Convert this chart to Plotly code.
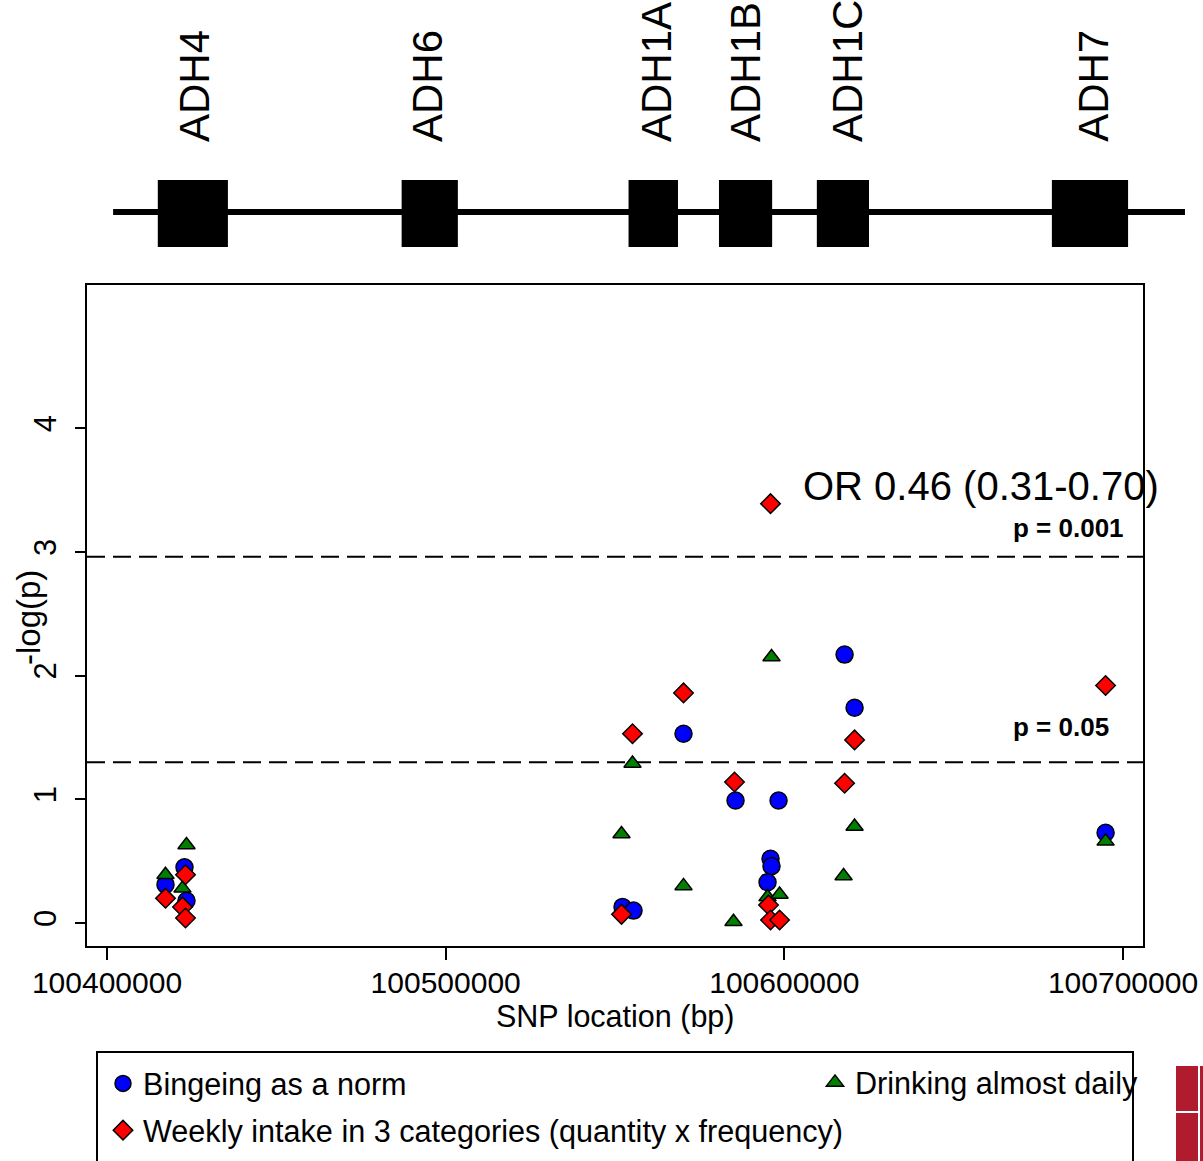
import plotly.graph_objects as go

# ---------------- data ----------------
series_names = ["Bingeing as a norm", "Drinking almost daily",
                "Weekly intake in 3 categories (quantity x frequency)"]

binge_x = [100417270, 100422880, 100423470, 100552220, 100555470, 100570230,
           100585590, 100598290, 100595920, 100596220, 100595040, 100617790,
           100620740, 100694860]
binge_y = [0.31, 0.45, 0.18, 0.13, 0.10, 1.53, 0.99, 0.99, 0.52, 0.46, 0.33,
           2.17, 1.74, 0.73]

daily_x = [100417270, 100422290, 100423470, 100551920, 100555170, 100570230,
           100584990, 100596220, 100595040, 100598590, 100617490, 100620740,
           100694860]
daily_y = [0.39, 0.28, 0.63, 0.72, 1.29, 0.30, 0.01, 2.15, 0.21, 0.23, 0.38,
           0.78, 0.66]

weekly_x = [100417270, 100423180, 100422290, 100423180, 100551920, 100555170,
            100570230, 100585290, 100595920, 100595330, 100595920, 100598590,
            100617790, 100620740, 100694860]
weekly_y = [0.20, 0.39, 0.13, 0.04, 0.07, 1.53, 1.86, 1.14, 3.39, 0.145, 0.024,
            0.024, 1.13, 1.48, 1.92]

# significance thresholds (-log p) and their labels
thresh_y = [2.96, 1.30]
thresh_labels = ["p = 0.001", "p = 0.05"]
thresh_label_y = [3.19, 1.585]

or_text = "OR 0.46 (0.31-0.70)"
or_y = 3.53

x_title = "SNP location (bp)"
y_title = "-log(p)"
x_tickvals = [100400000, 100500000, 100600000, 100700000]
x_ticktext = ["100400000", "100500000", "100600000", "100700000"]
y_tickvals = [0, 1, 2, 3, 4]

# schematic gene track (bp on the track axis)
gene_names = ["ADH4", "ADH6", "ADH1A", "ADH1B", "ADH1C", "ADH7"]
gene_start = [100415000, 100487000, 100554000, 100580700, 100609600, 100679000]
gene_end = [100435700, 100503600, 100568600, 100596400, 100625000, 100701500]
gene_label_x = [100425700, 100494500, 100562100, 100588400, 100618500, 100691100]
track_start, track_end = 100401800, 100718300

# ---------------- figure ----------------
W, H = 1203, 1161
ML, MR, MT, MB = 87, 10, 0, 215
PW = W - ML - MR
PH = H - MT - MB
FONT = "Liberation Sans, Arial"


def px_x(p):
    return (p - ML) / PW


def px_y(p):
    return (MT + PH - p) / PH


fig = go.Figure()

mk_line = dict(color="black", width=1.5)
fig.add_trace(go.Scatter(x=binge_x, y=binge_y, mode="markers", name=series_names[0],
                         marker=dict(symbol="circle", size=17, color="#0000ff", line=mk_line),
                         legend="legend", legendgroup="g1"))
fig.add_trace(go.Scatter(x=daily_x, y=daily_y, mode="markers", name=series_names[1],
                         marker=dict(symbol="triangle-up", size=15, color="#008000", line=mk_line),
                         legend="legend2", legendgroup="g2"))
fig.add_trace(go.Scatter(x=weekly_x, y=weekly_y, mode="markers", name=series_names[2],
                         marker=dict(symbol="diamond", size=15, color="#ff0000", line=mk_line),
                         legend="legend", legendgroup="g3"))
# dummy trace to instantiate gene-track axes
fig.add_trace(go.Scatter(x=[None], y=[None], xaxis="x2", yaxis="y2", showlegend=False,
                         hoverinfo="skip"))

shapes = []
for ty in thresh_y:
    shapes.append(dict(type="line", xref="x domain", yref="y", x0=0, x1=1, y0=ty, y1=ty,
                       line=dict(color="black", width=2, dash="18px,8px"), layer="below"))

# gene track
shapes.append(dict(type="line", xref="x2", yref="y2", x0=track_start, x1=track_end,
                   y0=48, y1=48, line=dict(color="black", width=6)))
for gs, ge in zip(gene_start, gene_end):
    shapes.append(dict(type="rect", xref="x2", yref="y2", x0=gs, x1=ge, y0=13, y1=80,
                       fillcolor="black", line=dict(width=0)))

# legend frame
shapes.append(dict(type="rect", xref="paper", yref="paper", x0=px_x(97), x1=px_x(1133),
                   y0=px_y(1052), y1=px_y(1175), line=dict(color="black", width=2),
                   fillcolor="rgba(0,0,0,0)"))
# clipped logo at the bottom right
shapes.append(dict(type="rect", xref="paper", yref="paper", x0=px_x(1176), x1=px_x(1210),
                   y0=px_y(1066), y1=px_y(1170), fillcolor="#b01c2e", line=dict(width=0)))
shapes.append(dict(type="line", xref="paper", yref="paper", x0=px_x(1199), x1=px_x(1199),
                   y0=px_y(1066), y1=px_y(1170), line=dict(color="white", width=2)))
shapes.append(dict(type="line", xref="paper", yref="paper", x0=px_x(1176), x1=px_x(1199),
                   y0=px_y(1112), y1=px_y(1112), line=dict(color="white", width=2)))

annotations = []
for lab, ly in zip(thresh_labels, thresh_label_y):
    annotations.append(dict(text=lab, xref="x domain", yref="y", x=(1011 - ML) / 1056, y=ly,
                            xanchor="left", yanchor="middle", showarrow=False,
                            font=dict(family=FONT, size=26, color="black", weight="bold")))
annotations.append(dict(text=or_text, xref="x domain", yref="y", x=(981 - ML) / 1056, y=or_y,
                        xanchor="center", yanchor="middle", showarrow=False,
                        font=dict(family=FONT, size=40, color="black")))
for name, gx in zip(gene_names, gene_label_x):
    annotations.append(dict(text=name, xref="x2", yref="y2", x=gx, y=116, textangle=-90,
                            xanchor="center", yanchor="bottom", showarrow=False,
                            font=dict(family=FONT, size=42, color="black")))
# axis titles
annotations.append(dict(text=x_title, xref="paper", yref="paper", x=px_x(615), y=px_y(1016),
                        xanchor="center", yanchor="middle", showarrow=False,
                        font=dict(family=FONT, size=30.5, color="black")))
annotations.append(dict(text=y_title, xref="paper", yref="paper", x=px_x(28), y=px_y(618),
                        xanchor="center", yanchor="middle", textangle=-90, showarrow=False,
                        font=dict(family=FONT, size=33, color="black")))

legend_font = dict(family=FONT, size=30.6, color="black")

fig.update_layout(
    width=W, height=H,
    margin=dict(l=ML, r=MR, t=MT, b=MB, autoexpand=False),
    paper_bgcolor="white", plot_bgcolor="white",
    font=dict(family=FONT, color="black"),
    xaxis=dict(domain=[0, 1056 / PW], range=[100394094, 100705906], tickvals=x_tickvals,
               ticktext=x_ticktext, ticks="outside", ticklen=12, tickwidth=2,
               tickcolor="black", showline=True, linewidth=2, linecolor="black", mirror=True,
               showgrid=False, zeroline=False, tickfont=dict(size=30),
               ticklabelstandoff=-3, automargin=False, anchor="y"),
    yaxis=dict(domain=[0, (PH - 285) / PH], range=[-0.186, 5.158], tickvals=y_tickvals,
               ticks="outside", ticklen=10, tickwidth=2, tickcolor="black", tickangle=-90,
               showline=True, linewidth=2, linecolor="black", mirror=True, showgrid=False,
               zeroline=False, tickfont=dict(size=31), ticklabelstandoff=7, automargin=False,
               anchor="x"),
    xaxis2=dict(domain=[0, 1], range=[100394094, 100720670], visible=False, anchor="y2",
                fixedrange=True),
    yaxis2=dict(domain=[(PH - 260) / PH, 1], range=[0, 260], visible=False, anchor="x2",
                fixedrange=True),
    shapes=shapes,
    annotations=annotations,
    legend=dict(x=px_x(103), y=px_y(1057), xanchor="left", yanchor="top",
                orientation="v", bgcolor="rgba(0,0,0,0)", borderwidth=0,
                font=legend_font, tracegroupgap=4, itemsizing="trace"),
    legend2=dict(x=px_x(815), y=px_y(1056), xanchor="left", yanchor="top",
                 orientation="v", bgcolor="rgba(0,0,0,0)", borderwidth=0,
                 font=legend_font, itemsizing="trace"),
    showlegend=True,
)

fig.write_html("out.html", config={"displayModeBar": False},
               post_script="document.body.style.margin='0';document.body.style.overflow='hidden';")
